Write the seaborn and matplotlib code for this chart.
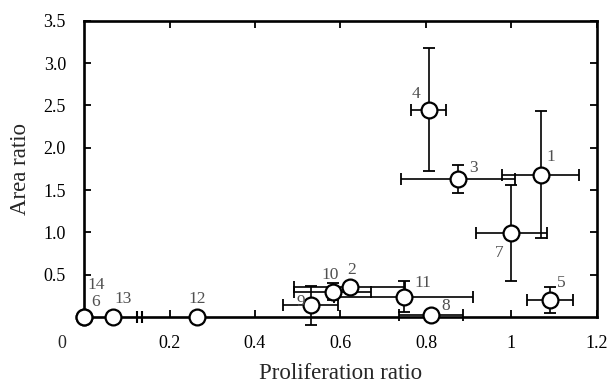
import matplotlib
matplotlib.use('Agg')
import matplotlib.pyplot as plt
import numpy as np
import pandas as pd
import seaborn as sns

# --- data ---
point_ids = ['1', '2', '3', '4', '5', '6', '7', '8', '9', '10', '11', '12', '13', '14']
prolif = [1.069, 0.622, 0.875, 0.806, 1.090, 0.0, 1.000, 0.811, 0.530, 0.582, 0.748, 0.264, 0.068, 0.0]
area = [1.68, 0.36, 1.63, 2.45, 0.20, 0.0, 0.99, 0.02, 0.14, 0.30, 0.24, 0.0, 0.0, 0.0]
prolif_err = [0.09, 0.13, 0.133, 0.04, 0.054, 0.0, 0.082, 0.075, 0.064, 0.09, 0.163, 0.0, 0.0, 0.0]
area_err = [0.75, 0.05, 0.17, 0.73, 0.15, 0.0, 0.565, 0.0, 0.23, 0.10, 0.18, 0.0, 0.0, 0.0]

x_ticks = [0.2, 0.4, 0.6, 0.8, 1.0, 1.2]
x_tick_labels = ['0.2', '0.4', '0.6', '0.8', '1', '1.2']
y_ticks = [0.5, 1.0, 1.5, 2.0, 2.5, 3.0, 3.5]
y_tick_labels = ['0.5', '1.0', '1.5', '2.0', '2.5', '3.0', '3.5']

df = pd.DataFrame({'id': point_ids, 'x': prolif, 'y': area,
                   'xerr': prolif_err, 'yerr': area_err})

# label offsets in points (layout only)
label_offsets = {
    '1': (7, 13), '2': (1, 12), '3': (11, 8), '4': (-9, 11), '5': (8, 12),
    '6': (8, 11), '7': (-9, -14), '8': (11, 7), '9': (-7, 2), '10': (-2, 12),
    '11': (14, 10), '12': (0, 13), '13': (7, 13), '14': (9, 23),
}

# --- style ---
sns.set_style('ticks')
plt.rcParams['font.family'] = ['Liberation Serif', 'DejaVu Serif']

fig, ax = plt.subplots(figsize=(6.11, 3.87), dpi=100)
fig.subplots_adjust(left=0.1375, right=0.977, bottom=0.181, top=0.946)

# error bars first, then the open circles on top
err = df[(df['xerr'] > 0) | (df['yerr'] > 0)]
ax.errorbar(err['x'], err['y'], xerr=err['xerr'], yerr=err['yerr'], fmt='none',
            ecolor='black', elinewidth=1.2, capsize=4.5, capthick=1.3,
            clip_on=False, zorder=2)

sns.scatterplot(data=df, x='x', y='y', ax=ax, s=130, marker='o',
                facecolor='white', edgecolor='black', linewidth=1.6,
                clip_on=False, zorder=3, legend=False)

for _, row in df.iterrows():
    dx, dy = label_offsets[row['id']]
    ax.annotate(row['id'], (row['x'], row['y']), xytext=(dx, dy),
                textcoords='offset points', ha='center', va='center',
                fontsize=12.5, color='#505050', zorder=4)

# axes
ax.set_xlim(0, 1.2)
ax.set_ylim(0, 3.5)
ax.set_xticks(x_ticks)
ax.set_xticklabels(x_tick_labels)
ax.set_yticks(y_ticks)
ax.set_yticklabels(y_tick_labels)
ax.tick_params(direction='in', length=5, width=1.3, top=True, right=True,
               labelsize=13, pad=13, colors='black')
for sp in ax.spines.values():
    sp.set_linewidth(1.9)
    sp.set_color('black')

# shared origin label
ax.annotate('0', (0, 0), xytext=(-16, -19), textcoords='offset points',
            ha='center', va='center', fontsize=13, annotation_clip=False)

# axis break marks on the x axis
ax.vlines([0.124, 0.136], -0.07, 0.07, colors='black', linewidth=1.5,
          clip_on=False, zorder=4)

ax.set_xlabel('Proliferation ratio', fontsize=16.5, labelpad=8)
ax.set_ylabel('Area ratio', fontsize=16.5, labelpad=9)

fig.savefig('out.png', dpi=100)
